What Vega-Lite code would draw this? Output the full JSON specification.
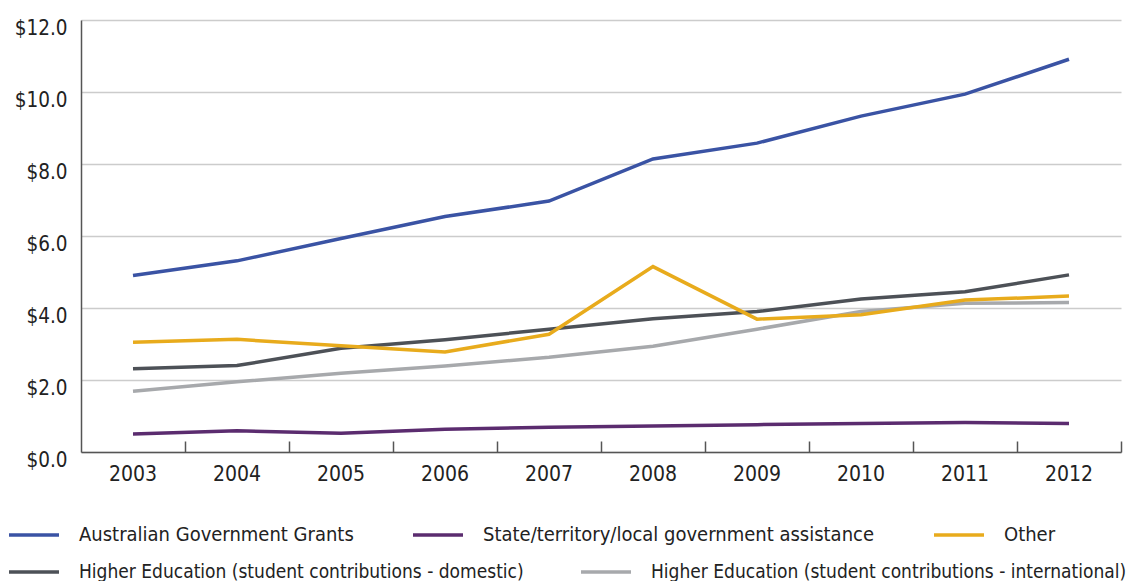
{
  "$schema": "https://vega.github.io/schema/vega-lite/v6.json",
  "width": 1040,
  "height": 432,
  "autosize": {"type": "none"},
  "padding": {"left": 81, "top": 20, "right": 16, "bottom": 129},
  "config": {
    "view": {"stroke": null},
    "font": "DejaVu Sans Condensed, sans-serif"
  },
  "data": {
    "values": [
      {"year": "2003", "series": "Australian Government Grants", "value": 4.90},
      {"year": "2004", "series": "Australian Government Grants", "value": 5.31},
      {"year": "2005", "series": "Australian Government Grants", "value": 5.93},
      {"year": "2006", "series": "Australian Government Grants", "value": 6.54},
      {"year": "2007", "series": "Australian Government Grants", "value": 6.97},
      {"year": "2008", "series": "Australian Government Grants", "value": 8.14},
      {"year": "2009", "series": "Australian Government Grants", "value": 8.58},
      {"year": "2010", "series": "Australian Government Grants", "value": 9.33},
      {"year": "2011", "series": "Australian Government Grants", "value": 9.94},
      {"year": "2012", "series": "Australian Government Grants", "value": 10.91},
      {"year": "2003", "series": "State/territory/local government assistance", "value": 0.50},
      {"year": "2004", "series": "State/territory/local government assistance", "value": 0.59},
      {"year": "2005", "series": "State/territory/local government assistance", "value": 0.52},
      {"year": "2006", "series": "State/territory/local government assistance", "value": 0.63},
      {"year": "2007", "series": "State/territory/local government assistance", "value": 0.69},
      {"year": "2008", "series": "State/territory/local government assistance", "value": 0.72},
      {"year": "2009", "series": "State/territory/local government assistance", "value": 0.76},
      {"year": "2010", "series": "State/territory/local government assistance", "value": 0.79},
      {"year": "2011", "series": "State/territory/local government assistance", "value": 0.82},
      {"year": "2012", "series": "State/territory/local government assistance", "value": 0.79},
      {"year": "2003", "series": "Other", "value": 3.05},
      {"year": "2004", "series": "Other", "value": 3.13},
      {"year": "2005", "series": "Other", "value": 2.95},
      {"year": "2006", "series": "Other", "value": 2.78},
      {"year": "2007", "series": "Other", "value": 3.27},
      {"year": "2008", "series": "Other", "value": 5.15},
      {"year": "2009", "series": "Other", "value": 3.69},
      {"year": "2010", "series": "Other", "value": 3.81},
      {"year": "2011", "series": "Other", "value": 4.22},
      {"year": "2012", "series": "Other", "value": 4.33},
      {"year": "2003", "series": "Higher Education (student contributions - domestic)", "value": 2.31},
      {"year": "2004", "series": "Higher Education (student contributions - domestic)", "value": 2.40},
      {"year": "2005", "series": "Higher Education (student contributions - domestic)", "value": 2.88},
      {"year": "2006", "series": "Higher Education (student contributions - domestic)", "value": 3.12},
      {"year": "2007", "series": "Higher Education (student contributions - domestic)", "value": 3.41},
      {"year": "2008", "series": "Higher Education (student contributions - domestic)", "value": 3.70},
      {"year": "2009", "series": "Higher Education (student contributions - domestic)", "value": 3.90},
      {"year": "2010", "series": "Higher Education (student contributions - domestic)", "value": 4.25},
      {"year": "2011", "series": "Higher Education (student contributions - domestic)", "value": 4.45},
      {"year": "2012", "series": "Higher Education (student contributions - domestic)", "value": 4.92},
      {"year": "2003", "series": "Higher Education (student contributions - international)", "value": 1.69},
      {"year": "2004", "series": "Higher Education (student contributions - international)", "value": 1.95},
      {"year": "2005", "series": "Higher Education (student contributions - international)", "value": 2.19},
      {"year": "2006", "series": "Higher Education (student contributions - international)", "value": 2.39},
      {"year": "2007", "series": "Higher Education (student contributions - international)", "value": 2.63},
      {"year": "2008", "series": "Higher Education (student contributions - international)", "value": 2.94},
      {"year": "2009", "series": "Higher Education (student contributions - international)", "value": 3.41},
      {"year": "2010", "series": "Higher Education (student contributions - international)", "value": 3.90},
      {"year": "2011", "series": "Higher Education (student contributions - international)", "value": 4.13},
      {"year": "2012", "series": "Higher Education (student contributions - international)", "value": 4.15}
    ]
  },
  "encoding": {
    "x": {
      "field": "year",
      "type": "ordinal",
      "bandPosition": 0.5,
      "scale": {"type": "band", "paddingInner": 0, "paddingOuter": 0},
      "axis": {
        "title": null,
        "labelAngle": 0,
        "bandPosition": 1,
        "tickExtra": false,
        "tickSize": -11,
        "tickColor": "#555555",
        "tickWidth": 1.5,
        "domainColor": "#555555",
        "domainWidth": 1.5,
        "labelFontSize": 21,
        "labelColor": "#222222",
        "labelPadding": 22,
        "grid": false
      }
    },
    "y": {
      "field": "value",
      "type": "quantitative",
      "scale": {"domain": [0, 12]},
      "axis": {
        "title": null,
        "values": [0, 2, 4, 6, 8, 10, 12],
        "format": "$.1f",
        "ticks": false,
        "domainColor": "#555555",
        "domainWidth": 1.5,
        "gridColor": "#cccccc",
        "gridWidth": 1.5,
        "labelFontSize": 20.5,
        "labelColor": "#222222",
        "labelPadding": 14,
        "labelOffset": 8
      }
    }
  },
  "layer": [
    {
      "transform": [{"filter": {"field": "series", "oneOf": ["Higher Education (student contributions - domestic)", "Higher Education (student contributions - international)"]}}],
      "mark": {"type": "line", "strokeWidth": 3.5},
      "encoding": {
        "stroke": {
          "field": "series",
          "type": "nominal",
          "scale": {
            "domain": ["Higher Education (student contributions - domestic)", "Higher Education (student contributions - international)"],
            "range": ["#4d5157", "#a7a9ac"]
          },
          "legend": {
            "orient": "none",
            "legendX": -74,
            "legendY": 525,
            "direction": "horizontal",
            "columns": 2,
            "title": null,
            "symbolType": "stroke",
            "symbolSize": 2500,
            "symbolStrokeWidth": 3.5,
            "labelFontSize": 19,
            "labelColor": "#222222",
            "labelOffset": 18,
            "columnPadding": 50,
            "padding": 0,
            "labelLimit": 1000
          }
        }
      }
    },
    {
      "transform": [{"filter": {"field": "series", "oneOf": ["Australian Government Grants", "State/territory/local government assistance", "Other"]}}],
      "mark": {"type": "line", "strokeWidth": 3.5},
      "encoding": {
        "color": {
          "field": "series",
          "type": "nominal",
          "scale": {
            "domain": ["Australian Government Grants", "State/territory/local government assistance", "Other"],
            "range": ["#3a53a4", "#5b2c6f", "#e8ab1c"]
          },
          "legend": {
            "orient": "none",
            "legendX": -74,
            "legendY": 488,
            "direction": "horizontal",
            "columns": 3,
            "title": null,
            "symbolType": "stroke",
            "symbolSize": 2500,
            "symbolStrokeWidth": 3.5,
            "labelFontSize": 20,
            "labelColor": "#222222",
            "labelOffset": 18,
            "columnPadding": 52,
            "padding": 0,
            "labelLimit": 1000
          }
        }
      }
    }
  ]
}
